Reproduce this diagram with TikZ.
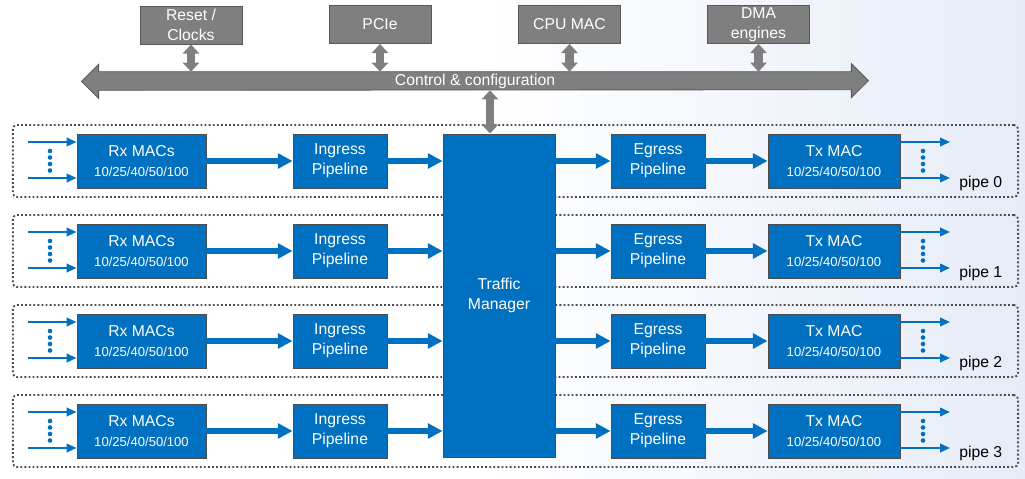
\documentclass[tikz,border=0pt]{standalone}
\usepackage{fontspec}
\setmainfont{Liberation Sans}
\usetikzlibrary{arrows.meta,calc}
\definecolor{pipeblue}{RGB}{0,112,192}
\definecolor{boxgray}{RGB}{127,127,127}
\definecolor{edgegray}{RGB}{89,89,89}
\definecolor{bgblue}{RGB}{230,236,247}
\newcommand\spd{\fontsize{9.3}{11}\selectfont}
\tikzset{
  blk/.style={fill=pipeblue, draw=black!70, line width=0.6pt, text=white, align=center, inner sep=0pt,
    minimum height=1.35cm, font=\fontsize{11.2}{14.2}\selectfont},
  ctlbox/.style={fill=boxgray, draw=edgegray, line width=0.6pt, text=white, align=center, inner sep=0pt,
    minimum width=2.55cm, minimum height=0.95cm, font=\fontsize{11.2}{14}\selectfont},
  frame/.style={draw=black!70, line width=1.3pt, dash pattern=on 1.3pt off 1.6pt, rounded corners=3pt,
    minimum width=25.125cm, minimum height=1.8cm, inner sep=0pt},
  flow/.style={draw=pipeblue, line width=4pt, -{Triangle[length=10.5pt,width=10.5pt]}},
  sig/.style={draw=pipeblue, line width=1.4pt, -{Triangle[length=7pt,width=6pt]}},
  ctl/.style={draw=boxgray, line width=6pt, {Triangle[length=6.5pt,width=11.5pt]}-{Triangle[length=6.5pt,width=11.5pt]}},
  lbl/.style={font=\fontsize{11.2}{14}\selectfont}
}
\begin{document}
\begin{tikzpicture}[x=0.025cm, y=-0.025cm]
  \useasboundingbox (0,0) rectangle (1025,479);
  \shade[left color=white, right color=bgblue] (480,0) rectangle (1025,479);
  \node[ctlbox] (rc) at (191,25) {Reset /\\Clocks};
  \node[ctlbox] (pcie) at (380,24.5) {PCIe};
  \node[ctlbox] (cpu) at (569.5,24.5) {CPU MAC};
  \node[ctlbox] (dma) at (758.5,24.5) {DMA\\engines};
  \node[minimum width=18.8cm, minimum height=0.45cm, inner sep=0pt] (bus) at (475,81) {};
  \draw[fill=boxgray, draw=edgegray, line width=0.6pt] (bus.north west) -- (bus.north east) -- ++(0,-8)
    -- ++(17,17) -- ++(-17,17) -- ++(0,-8) -- (bus.south west) -- ++(0,8) -- ++(-17,-17) -- ++(17,-17) -- cycle;
  \node[lbl, text=white] (buslbl) at (bus) {Control \& configuration};
  \foreach \n in {rc,pcie,cpu,dma}
    \draw[ctl] (\n.south) -- (\n.south |- bus.north);
  \foreach \i in {0,...,3} {
    \pgfmathsetmacro\yc{161+90*\i}
    \node[frame] (fr\i) at (515.5,\yc) {};
  }
  \node[blk, minimum width=2.8cm, minimum height=8.075cm] (tm) at (499,295.5) {Traffic\\Manager};
  \coordinate (tmin) at ([xshift=-0.225cm]tm.north);
  \draw[ctl] (tmin |- bus.south) -- (tmin);
  \foreach \i in {0,...,3} {
    \pgfmathsetmacro\yc{161+90*\i}
    \node[blk, minimum width=3.225cm] (rx\i) at (141.5,\yc) {Rx MACs\\{\spd 10/25/40/50/100}};
    \node[blk, minimum width=2.35cm] (ig\i) at (340,\yc) {Ingress\\Pipeline};
    \node[blk, minimum width=2.35cm] (eg\i) at (658,\yc) {Egress\\Pipeline};
    \node[blk, minimum width=3.3cm] (tx\i) at (834,\yc) {Tx MAC\\{\spd 10/25/40/50/100}};
    \node[lbl, anchor=base west, inner sep=0pt] (pl\i) at (959,{\yc+26}) {pipe \i};
    \coordinate (ia\i) at (28,{\yc-19});
    \coordinate (ib\i) at (28,{\yc+17});
    \coordinate (oa\i) at (950,{\yc-19});
    \coordinate (ob\i) at (950,{\yc+17});
    \draw[sig] (ia\i) -- (ia\i -| rx\i.west);
    \draw[sig] (ib\i) -- (ib\i -| rx\i.west);
    \draw[sig] (oa\i -| tx\i.east) -- (oa\i);
    \draw[sig] (ob\i -| tx\i.east) -- (ob\i);
    \foreach \k in {0,...,3} {
      \fill[pipeblue] (50,{\yc-10+6.5*\k}) circle (2.3);
      \fill[pipeblue] (923,{\yc-10+6.5*\k}) circle (2.3);
    }
    \draw[flow] (rx\i) -- (ig\i);
    \draw[flow] (ig\i) -- (ig\i -| tm.west);
    \draw[flow] (eg\i -| tm.east) -- (eg\i);
    \draw[flow] (eg\i) -- (tx\i);
  }
\end{tikzpicture}
\end{document}
